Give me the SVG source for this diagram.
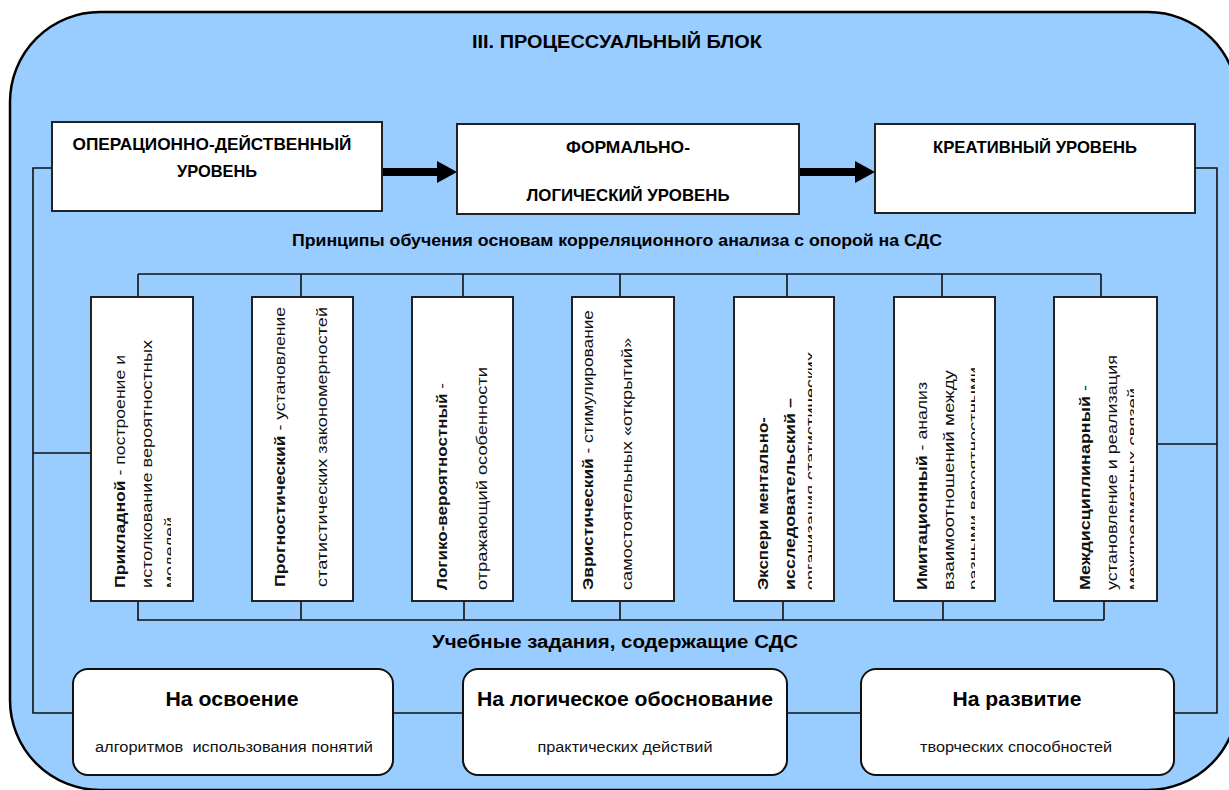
<svg xmlns="http://www.w3.org/2000/svg" width="1229" height="790" viewBox="0 0 1229 790">
<style>
.box{fill:#fff;stroke:#222;stroke-width:2}
.rbox{fill:#fff;stroke:#111;stroke-width:2}
.ln{fill:none;stroke:#111;stroke-width:1.6}
.h{font-family:"Liberation Sans",Arial,sans-serif;font-weight:bold;fill:#000}
.t{font-family:"Liberation Sans",Arial,sans-serif;fill:#111}
.v{font-family:"Liberation Sans",Arial,sans-serif;font-size:14px;fill:#111}
.b{font-weight:bold}
</style>
<defs>
<marker id="arr" markerUnits="userSpaceOnUse" markerWidth="22" markerHeight="24" refX="0" refY="12" orient="auto">
<path d="M0,1 L20,12 L0,23 Z" fill="#000"/>
</marker>
<clipPath id="cA"><rect x="91" y="297" width="80" height="305"/></clipPath>
<clipPath id="cE"><rect x="734" y="297" width="78" height="305"/></clipPath>
<clipPath id="cF"><rect x="894" y="297" width="81" height="305"/></clipPath>
<clipPath id="cG"><rect x="1054" y="297" width="80" height="305"/></clipPath>
</defs>

<g id="container">
<rect x="10" y="12" width="1228" height="778" rx="90" ry="90" fill="#99CCFF" stroke="#000" stroke-width="2.5"/>
<text class="h" x="617" y="48" font-size="18" text-anchor="middle" textLength="290" lengthAdjust="spacingAndGlyphs">III. ПРОЦЕССУАЛЬНЫЙ БЛОК</text>
<text class="h" x="617" y="246" font-size="16" text-anchor="middle" textLength="650" lengthAdjust="spacingAndGlyphs">Принципы обучения основам корреляционного анализа с опорой на СДС</text>
<text class="h" x="615" y="648" font-size="18" text-anchor="middle" textLength="366" lengthAdjust="spacingAndGlyphs">Учебные задания, содержащие СДС</text>
</g>

<g id="connectors">
<line x1="382" y1="172" x2="437" y2="172" stroke="#000" stroke-width="8" marker-end="url(#arr)"/>
<line x1="799" y1="172" x2="855" y2="172" stroke="#000" stroke-width="8" marker-end="url(#arr)"/>
<polyline class="ln" points="52,168 33,168 33,713 73,713"/>
<line class="ln" x1="33" y1="453" x2="91" y2="453"/>
<polyline class="ln" points="1195,168 1217,168 1217,713 1174,713"/>
<line class="ln" x1="1157" y1="444" x2="1217" y2="444"/>
<line class="ln" x1="393" y1="713" x2="463" y2="713"/>
<line class="ln" x1="787" y1="713" x2="861" y2="713"/>
<line class="ln" x1="138" y1="274" x2="1101" y2="274"/>
<path class="ln" d="M138,274V297 M301,274V297 M463,274V297 M620,274V297 M787,274V297 M942,274V297 M1101,274V297"/>
<line class="ln" x1="137" y1="620" x2="1104" y2="620"/>
<path class="ln" d="M138,601V620 M301,601V620 M464,601V620 M620,601V620 M783,601V620 M943,601V620 M1104,601V620"/>
</g>

<g id="level-operational">
<rect class="box" x="52" y="122" width="330" height="89"/>
<text class="h" x="212" y="150" font-size="17" text-anchor="middle" textLength="279" lengthAdjust="spacingAndGlyphs">ОПЕРАЦИОННО-ДЕЙСТВЕННЫЙ</text>
<text class="h" x="217" y="177" font-size="17" text-anchor="middle" textLength="80" lengthAdjust="spacingAndGlyphs">УРОВЕНЬ</text>
</g>
<g id="level-formal">
<rect class="box" x="457" y="124" width="342" height="90"/>
<text class="h" x="628" y="153" font-size="17" text-anchor="middle" textLength="124" lengthAdjust="spacingAndGlyphs">ФОРМАЛЬНО-</text>
<text class="h" x="628" y="201" font-size="17" text-anchor="middle" textLength="203" lengthAdjust="spacingAndGlyphs">ЛОГИЧЕСКИЙ УРОВЕНЬ</text>
</g>
<g id="level-creative">
<rect class="box" x="875" y="124" width="320" height="89"/>
<text class="h" x="1035" y="153" font-size="17" text-anchor="middle" textLength="204" lengthAdjust="spacingAndGlyphs">КРЕАТИВНЫЙ УРОВЕНЬ</text>
</g>

<g id="p-applied">
<rect class="box" x="91" y="297" width="102" height="304"/>
<text class="v" transform="translate(125,588) rotate(-90)" textLength="233" lengthAdjust="spacingAndGlyphs"><tspan class="b">Прикладной</tspan> - построение и</text>
<text class="v" transform="translate(152,588) rotate(-90)" textLength="248" lengthAdjust="spacingAndGlyphs">истолкование вероятностных</text>
<g clip-path="url(#cA)"><text class="v" transform="translate(175,588) rotate(-90)" textLength="71" lengthAdjust="spacingAndGlyphs">моделей</text></g>
</g>
<g id="p-prognostic">
<rect class="box" x="252" y="297" width="101" height="304"/>
<text class="v" transform="translate(285,587) rotate(-90)" textLength="280" lengthAdjust="spacingAndGlyphs"><tspan class="b">Прогностический</tspan> - установление</text>
<text class="v" transform="translate(327,587) rotate(-90)" textLength="280" lengthAdjust="spacingAndGlyphs">статистических закономерностей</text>
</g>
<g id="p-logical">
<rect class="box" x="412" y="297" width="101" height="304"/>
<text class="v" transform="translate(447,590) rotate(-90)" textLength="207" lengthAdjust="spacingAndGlyphs"><tspan class="b">Логико-вероятностный</tspan> -</text>
<text class="v" transform="translate(487,590) rotate(-90)" textLength="223" lengthAdjust="spacingAndGlyphs">отражающий особенности</text>
</g>
<g id="p-heuristic">
<rect class="box" x="572" y="297" width="102" height="304"/>
<text class="v" transform="translate(593,590) rotate(-90)" textLength="280" lengthAdjust="spacingAndGlyphs"><tspan class="b">Эвристический</tspan> - стимулирование</text>
<text class="v" transform="translate(632,590) rotate(-90)" textLength="252" lengthAdjust="spacingAndGlyphs">самостоятельных «открытий»</text>
</g>
<g id="p-experimental">
<rect class="box" x="734" y="297" width="100" height="304"/>
<text class="v b" transform="translate(768,590) rotate(-90)" textLength="173" lengthAdjust="spacingAndGlyphs">Экспери ментально-</text>
<text class="v b" transform="translate(795,590) rotate(-90)" textLength="192" lengthAdjust="spacingAndGlyphs">исследовательский –</text>
<g clip-path="url(#cE)"><text class="v" transform="translate(816,590) rotate(-90)" textLength="238" lengthAdjust="spacingAndGlyphs">организация статистических</text></g>
</g>
<g id="p-imitation">
<rect class="box" x="894" y="297" width="101" height="304"/>
<text class="v" transform="translate(927,590) rotate(-90)" textLength="208" lengthAdjust="spacingAndGlyphs"><tspan class="b">Имитационный</tspan> - анализ</text>
<text class="v" transform="translate(954,590) rotate(-90)" textLength="220" lengthAdjust="spacingAndGlyphs">взаимоотношений между</text>
<g clip-path="url(#cF)"><text class="v" transform="translate(979,590) rotate(-90)" textLength="223" lengthAdjust="spacingAndGlyphs">разными вероятностными</text></g>
</g>
<g id="p-interdisciplinary">
<rect class="box" x="1054" y="297" width="103" height="304"/>
<text class="v" transform="translate(1090,590) rotate(-90)" textLength="205" lengthAdjust="spacingAndGlyphs"><tspan class="b">Междисциплинарный</tspan> -</text>
<text class="v" transform="translate(1117,590) rotate(-90)" textLength="235" lengthAdjust="spacingAndGlyphs">установление и реализация</text>
<g clip-path="url(#cG)"><text class="v" transform="translate(1138,590) rotate(-90)" textLength="202" lengthAdjust="spacingAndGlyphs">межпредметных связей</text></g>
</g>

<g id="task-mastery">
<rect class="rbox" x="73" y="669" width="320" height="106" rx="15" ry="15"/>
<text class="h" x="232" y="706" font-size="20" text-anchor="middle" textLength="133" lengthAdjust="spacingAndGlyphs">На освоение</text>
<text class="t" x="234" y="752" font-size="14" text-anchor="middle" textLength="278" lengthAdjust="spacingAndGlyphs" style="white-space:pre">алгоритмов  использования понятий</text>
</g>
<g id="task-logical">
<rect class="rbox" x="463" y="669" width="324" height="106" rx="15" ry="15"/>
<text class="h" x="625" y="706" font-size="20" text-anchor="middle" textLength="296" lengthAdjust="spacingAndGlyphs">На логическое обоснование</text>
<text class="t" x="625" y="752" font-size="14" text-anchor="middle" textLength="175" lengthAdjust="spacingAndGlyphs">практических действий</text>
</g>
<g id="task-development">
<rect class="rbox" x="861" y="669" width="313" height="106" rx="15" ry="15"/>
<text class="h" x="1017" y="706" font-size="20" text-anchor="middle" textLength="129" lengthAdjust="spacingAndGlyphs">На развитие</text>
<text class="t" x="1016" y="752" font-size="14" text-anchor="middle" textLength="192" lengthAdjust="spacingAndGlyphs">творческих способностей</text>
</g>
</svg>
